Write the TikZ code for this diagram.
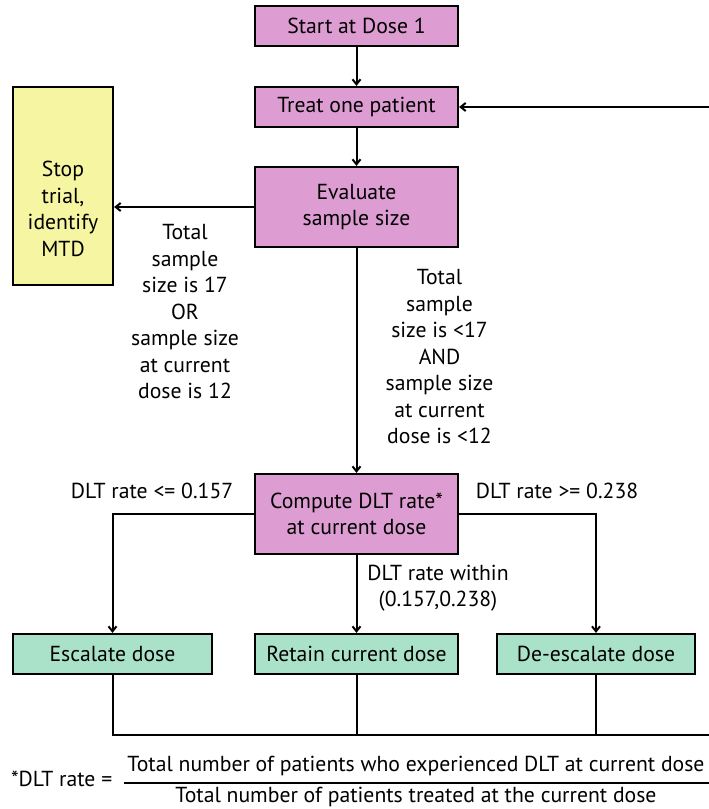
\documentclass[tikz,border=0pt]{standalone}
\usepackage{fontspec}
\setmainfont{PT Sans}
\usetikzlibrary{arrows.meta}
\definecolor{pinkbox}{RGB}{221,157,211}
\definecolor{yellowbox}{RGB}{245,245,162}
\definecolor{greenbox}{RGB}{170,225,201}
\begin{document}
\begin{tikzpicture}[x=1pt,y=-1pt,
  font=\fontsize{21.7}{26.5}\selectfont,
  line width=2pt,
  box/.style={draw=black, line width=2.2pt, minimum width=203pt, minimum height=40pt, inner sep=0pt, align=center},
  pinkb/.style={box, fill=pinkbox},
  greenb/.style={box, fill=greenbox},
  lab/.style={align=center, inner sep=0pt},
  arr/.style={-{Straight Barb[length=5pt,width=8pt]}}]
\useasboundingbox (0,0) rectangle (709,809);

\node[pinkb] (start) at (356.5,26) {Start at Dose 1};
\node[pinkb] (treat) at (356.5,107) {Treat one patient};
\node[pinkb, minimum height=80pt] (eval) at (356.5,207) {Evaluate\\sample size};
\node[box, fill=yellowbox, minimum width=100pt, minimum height=198pt] (stop) at (63,186) {};
\node[lab] (stoptext) at (63,209) {Stop\\trial,\\identify\\MTD};
\node[pinkb, minimum height=80pt] (comp) at (356.5,514) {Compute DLT rate*\\at current dose};
\node[greenb, minimum width=199pt] (esc) at (112.5,654) {Escalate dose};
\node[greenb] (ret) at (356.5,654) {Retain current dose};
\node[greenb, minimum width=198pt] (deesc) at (596,654) {De-escalate dose};

\coordinate (rin) at (709,107);
\coordinate (br) at (709,735);

\draw[arr] (start) -- (treat);
\draw[arr] (treat) -- (eval);
\draw[arr] (rin) -- (treat.east);
\draw[arr] (eval.west) -- (eval.west -| stop.east);
\draw[arr] (eval) -- (comp);
\draw[arr] (comp.west) -| (esc.north);
\draw[arr] (comp.east) -| (deesc.north);
\draw[arr] (comp) -- (ret);
\draw (esc.south) |- (br);
\draw (ret.south) -- (ret.south |- br);
\draw (deesc.south) -- (deesc.south |- br);

\node[lab] (l1) at (185,312) {Total\\sample\\size is 17\\OR\\sample size\\at current\\dose is 12};
\node[lab] (l2) at (439.5,357) {Total\\sample\\size is <17\\AND\\sample size\\at current\\dose is <12};
\node[lab] (l3) at (152,491) {DLT rate <= 0.157};
\node[lab] (l4) at (557,491) {DLT rate >= 0.238};
\node[lab] (l5) at (438,588) {DLT rate within\\(0.157,0.238)};

\node[lab, anchor=west] (fn) at (10,779) {*DLT rate =};
\node[lab] (num) at (416,766) {Total number of patients who experienced DLT at current dose};
\node[lab] (den) at (416,797) {Total number of patients treated at the current dose};
\coordinate (barl) at (124,782.5);
\coordinate (barr) at (709,782.5);
\draw[line width=2pt] (barl) -- (barr);
\end{tikzpicture}
\end{document}
